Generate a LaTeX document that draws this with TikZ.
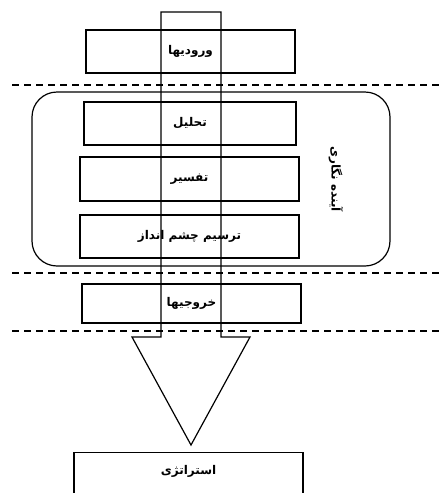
\documentclass[tikz,border=0pt]{standalone}
\usepackage{fontspec}
\newfontfamily\farsi[Script=Arabic]{DejaVu Sans}
\TeXXeTstate=1
\usetikzlibrary{positioning}
\usetikzlibrary{calc}

\begin{document}
\begin{tikzpicture}[x=1pt,y=-1pt,line width=1.2pt,
    nodes={font=\farsi\bfseries\fontsize{12}{14}\selectfont,inner sep=0pt},
    stagebox/.style={draw,rectangle,minimum height=43pt},
    sepline/.style={dash pattern=on 7pt off 5pt}]
  \useasboundingbox (0,0) rectangle (443,493);
  \clip (0,0) rectangle (443,493);
  % frame of the three stages
  \node[draw,rounded corners=25pt,minimum width=358pt,minimum height=174pt] (frame) at (211,179) {};
  \node[rotate=-90] (futures) at (336,179) {\beginR آینده نگاری\endR};
  % stage boxes
  \node[stagebox,minimum width=209pt] (inputs) at (190.5,51.5) {\beginR ورودیها\endR};
  \node[stagebox,minimum width=212pt] (analysis) at (190,123.5) {\beginR تحلیل\endR};
  \node[stagebox,minimum width=219pt,minimum height=44pt] (interp) at (189.5,179) {\beginR تفسیر\endR};
  \node[stagebox,minimum width=219pt] (vision) at (189.5,236.5) {\beginR ترسیم چشم انداز\endR};
  \node[stagebox,minimum width=219pt,minimum height=39pt] (outputs) at (191.5,303.5) {\beginR خروجیها\endR};
  \node[stagebox,minimum width=229pt,minimum height=60pt,anchor=north] (strategy) at (188.5,452) {};
  \node (strategylabel) at (188.5,471) {\beginR استراتژی\endR};
  % dashed separators
  \draw[sepline] (12,85) -- (443,85);
  \draw[sepline] (12,273) -- (443,273);
  \draw[sepline] (12,331) -- (443,331);
  % the long arrow
  \draw (161,12) -- (221,12) -- (221,337) -- (250,337) -- (191,445)
        -- (132,337) -- (161,337) -- cycle;
\end{tikzpicture}
\end{document}
